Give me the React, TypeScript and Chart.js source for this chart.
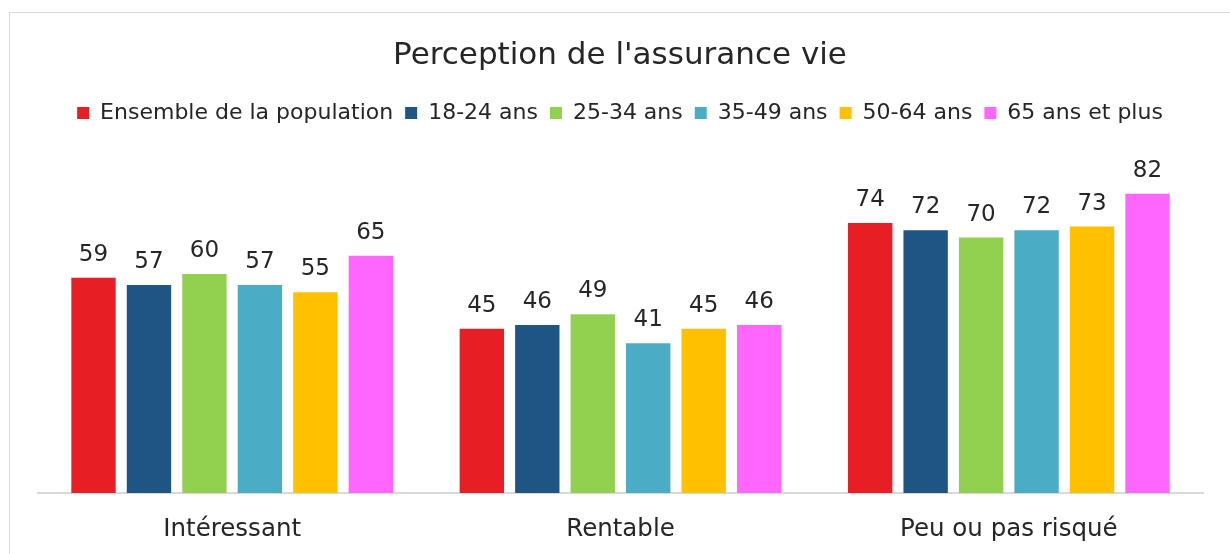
import React, { useEffect, useRef } from "react";
import { Chart, registerables } from "chart.js";

Chart.register(...registerables);

const titleText = "Perception de l'assurance vie";
const categories = ["Intéressant", "Rentable", "Peu ou pas risqué"];
const seriesNames = [
  "Ensemble de la population",
  "18-24 ans",
  "25-34 ans",
  "35-49 ans",
  "50-64 ans",
  "65 ans et plus",
];
const ensemble = [59, 45, 74];
const age18to24 = [57, 46, 72];
const age25to34 = [60, 49, 70];
const age35to49 = [57, 41, 72];
const age50to64 = [55, 45, 73];
const age65plus = [65, 46, 82];
const seriesValues = [ensemble, age18to24, age25to34, age35to49, age50to64, age65plus];
const seriesColors = ["#E81E25", "#1F5585", "#92D050", "#4BACC6", "#FFC000", "#FF66FF"];

const FONT = "'DejaVu Sans', sans-serif";
const TEXT = "#262626";

const dataLabels = {
  id: "dataLabels",
  afterDatasetsDraw(chart: any) {
    const ctx = chart.ctx;
    ctx.save();
    ctx.font = `23px ${FONT}`;
    ctx.fillStyle = TEXT;
    ctx.textAlign = "center";
    ctx.textBaseline = "alphabetic";
    chart.data.datasets.forEach((ds: any, i: number) => {
      const meta = chart.getDatasetMeta(i);
      meta.data.forEach((el: any, j: number) => {
        ctx.fillText(String(ds.data[j]), el.x, el.y - 17);
      });
    });
    ctx.restore();
  },
};

const hiddenSide = (width: number, position: string) => ({
  display: true,
  position,
  ticks: { display: false },
  grid: { display: false, drawTicks: false },
  border: { display: false },
  afterFit: (s: any) => {
    s.width = width;
  },
});

export default function App() {
  const ref = useRef<HTMLCanvasElement | null>(null);

  useEffect(() => {
    if (!ref.current) return;
    const chart = new Chart(ref.current, {
      type: "bar",
      data: {
        labels: categories,
        datasets: seriesNames.map((name, i) => ({
          label: name,
          data: seriesValues[i],
          backgroundColor: seriesColors[i],
          borderWidth: 0,
          categoryPercentage: 0.857,
          barPercentage: 0.8,
          yAxisID: "y",
        })),
      },
      options: {
        responsive: false,
        animation: false,
        devicePixelRatio: 1,
        layout: { padding: { left: 0, right: 0, top: 0, bottom: 0 } },
        plugins: {
          title: {
            display: true,
            text: titleText,
            color: TEXT,
            font: { family: FONT, size: 31, weight: "normal" },
            padding: { top: 24, bottom: 15.8 },
          },
          legend: {
            display: true,
            position: "top",
            maxHeight: 38,
            labels: {
              color: TEXT,
              font: { family: FONT, size: 22 },
              boxWidth: 12,
              boxHeight: 12,
              padding: 12,
            },
          },
          tooltip: { enabled: false },
        },
        scales: {
          x: {
            grid: { display: false, drawTicks: false },
            border: { display: true, color: "#D9D9D9", width: 2 },
            ticks: {
              color: TEXT,
              font: { family: FONT, size: 24.5 },
              padding: 22,
            },
            afterFit: (s: any) => {
              s.height = 61;
            },
          },
          y: {
            ...hiddenSide(28, "left"),
            min: 0,
            max: 100,
          },
          yRight: {
            ...hiddenSide(27, "right"),
            min: 0,
            max: 100,
          },
        },
      } as any,
      plugins: [dataLabels],
    });
    return () => chart.destroy();
  }, []);

  return (
    <div
      style={{
        position: "absolute",
        left: 9,
        top: 12,
        width: 1221,
        height: 542,
        boxSizing: "border-box",
        borderTop: "1px solid #D9D9D9",
        borderLeft: "1px solid #D9D9D9",
        background: "#FFFFFF",
        overflow: "hidden",
      }}
    >
      <canvas ref={ref} width={1220} height={541} style={{ display: "block" }} />
    </div>
  );
}
